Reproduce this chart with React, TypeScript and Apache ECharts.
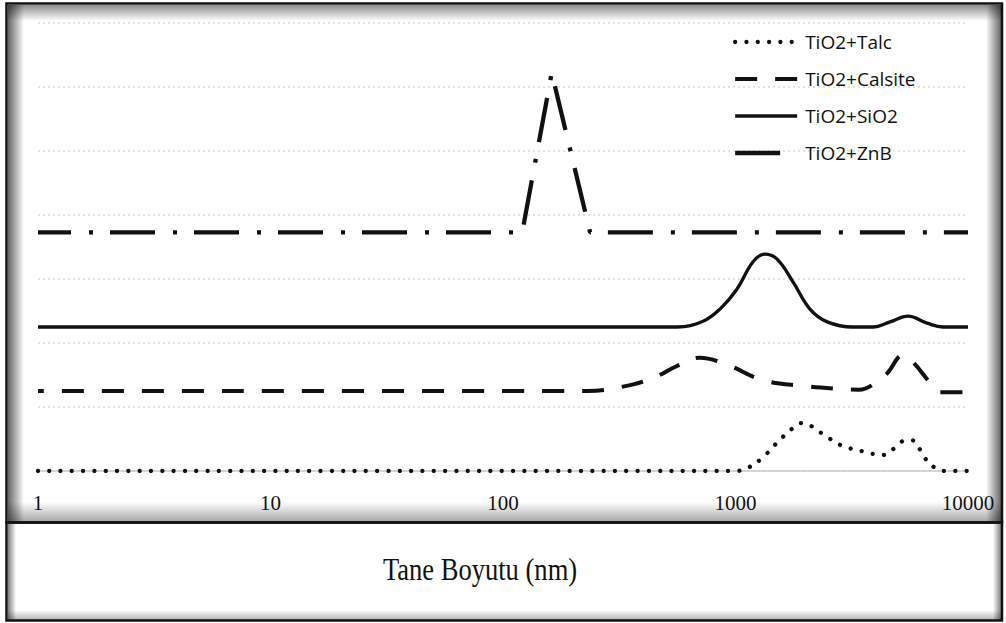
import React, { useEffect, useRef } from "react";
import * as echarts from "echarts";

// Particle size distributions (size in nm, offset intensity)
const talcData: [number, number][] = [
  [1, 0], [1000, 0], [1130, 0.05], [1300, 0.2], [1480, 0.41], [1750, 0.66], [1930, 0.75],
  [2350, 0.59], [2810, 0.41], [3500, 0.31], [4300, 0.25], [4800, 0.35], [5200, 0.46],
  [5740, 0.48], [6200, 0.34], [6530, 0.2], [7200, 0.05], [7800, 0], [10000, 0],
];
const calsiteData: [number, number][] = [
  [1, 1.25], [230, 1.25], [320, 1.31], [440, 1.45], [560, 1.64], [700, 1.77], [920, 1.66],
  [1310, 1.42], [1950, 1.33], [2870, 1.28], [3400, 1.27], [4060, 1.39], [4500, 1.53],
  [5250, 1.81], [5800, 1.7], [6870, 1.38], [7600, 1.23], [10000, 1.23],
];
const sio2Data: [number, number][] = [
  [1, 2.25], [560, 2.25], [725, 2.34], [857, 2.53], [1014, 2.84], [1190, 3.27], [1340, 3.39],
  [1510, 3.31], [1770, 2.95], [2090, 2.53], [2480, 2.33], [3200, 2.25], [3900, 2.25],
  [4620, 2.33], [5520, 2.42], [6670, 2.31], [7800, 2.25], [10000, 2.25],
];
const znbData: [number, number][] = [
  [1, 3.73], [121, 3.73], [162, 6.22], [237, 3.73], [10000, 3.73],
];

const seriesNames = ["TiO2+Talc", "TiO2+Calsite", "TiO2+SiO2", "TiO2+ZnB"];
const xTickLabels = ["1", "10", "100", "1000", "10000"];
const xTitle = "Tane Boyutu (nm)";

export default function App() {
  const ref = useRef<HTMLDivElement>(null);

  useEffect(() => {
    if (!ref.current) return;
    const chart = echarts.init(ref.current, undefined, { renderer: "svg" });
    const ink = "#111";

    const dotted = { color: ink, width: 4.3, type: [0.01, 11.3], cap: "round" };
    const dashed = { color: ink, width: 4, type: [22, 18] };
    const solid = { color: ink, width: 3.3 };
    const dashDot = { color: ink, width: 4.3, type: [45, 18, 4, 17] };

    const shade = (x: number, y: number, w: number, h: number, dir: "l" | "r" | "t" | "b", a: number) => {
      const g =
        dir === "l" ? [0, 0, 1, 0] : dir === "r" ? [1, 0, 0, 0] : dir === "t" ? [0, 0, 0, 1] : [0, 1, 0, 0];
      return {
        type: "rect",
        silent: true,
        z: -10,
        shape: { x, y, width: w, height: h },
        style: {
          fill: new echarts.graphic.LinearGradient(g[0], g[1], g[2], g[3], [
            { offset: 0, color: `rgba(0,0,0,${a})` },
            { offset: 1, color: "rgba(0,0,0,0)" },
          ]),
        },
      };
    };

    chart.setOption({
      animation: false,
      backgroundColor: "#fff",
      grid: { left: 38, right: 38, top: 23, bottom: 152 },
      xAxis: {
        type: "log",
        logBase: 10,
        min: 1,
        max: 10000,
        axisLine: { show: true, lineStyle: { color: "#c9c9c9", width: 1.5 } },
        axisTick: { show: false },
        splitLine: { show: false },
        axisLabel: {
          margin: 21,
          fontFamily: "Liberation Serif",
          fontSize: 21,
          color: "#111",
          formatter: (v: number) => xTickLabels[Math.round(Math.log10(v))] ?? "",
        },
      },
      yAxis: {
        type: "value",
        min: 0,
        max: 7,
        interval: 1,
        axisLine: { show: false },
        axisTick: { show: false },
        axisLabel: { show: false },
        splitLine: { show: true, lineStyle: { color: "#dcdccb", width: 1.5, type: [2, 3] } },
      },
      legend: {
        orient: "vertical",
        left: 733,
        top: 32,
        padding: 0,
        itemWidth: 62,
        itemHeight: 20,
        itemGap: 17,
        itemStyle: { opacity: 0 },
        textStyle: {
          fontFamily: "Open Sans",
          fontSize: 19,
          lineHeight: 20,
          color: "#111",
          padding: [0, 0, 0, 3],
        },
        data: [
          { name: seriesNames[0], lineStyle: { ...dotted } },
          { name: seriesNames[1], lineStyle: { ...dashed, dashOffset: 0 } },
          { name: seriesNames[2], lineStyle: { ...solid } },
          { name: seriesNames[3], lineStyle: { ...dashDot, dashOffset: 0 } },
        ],
      },
      series: [
        {
          name: seriesNames[0],
          type: "line",
          data: talcData,
          symbol: "none",
          smooth: 0.4,
          lineStyle: dotted,
        },
        {
          name: seriesNames[1],
          type: "line",
          data: calsiteData,
          symbol: "none",
          smooth: 0.4,
          lineStyle: { ...dashed, dashOffset: 16 },
        },
        {
          name: seriesNames[2],
          type: "line",
          data: sio2Data,
          symbol: "none",
          smooth: 0.4,
          lineStyle: solid,
        },
        {
          name: seriesNames[3],
          type: "line",
          data: znbData,
          symbol: "none",
          smooth: false,
          lineStyle: { ...dashDot, dashOffset: 12 },
        },
      ],
      graphic: {
        elements: [
          // inner shading of the upper (plot) panel
          shade(8, 5, 16, 517, "l", 0.6),
          shade(8, 5, 993, 16, "t", 0.45),
          shade(986, 5, 15, 517, "r", 0.6),
          shade(8, 502, 993, 20, "b", 0.35),
          // inner shading of the lower (title) panel
          shade(8, 524, 8, 96, "l", 0.5),
          shade(993, 524, 8, 96, "r", 0.5),
          shade(8, 610, 993, 10, "b", 0.3),
          {
            type: "rect",
            silent: true,
            z: 50,
            shape: { x: 6.5, y: 3.5, width: 995.5, height: 519 },
            style: { fill: "none", stroke: "#111", lineWidth: 2.5 },
          },
          {
            type: "rect",
            silent: true,
            z: 50,
            shape: { x: 6.5, y: 522.5, width: 995.5, height: 98 },
            style: { fill: "none", stroke: "#111", lineWidth: 2.5 },
          },
          {
            type: "text",
            silent: true,
            z: 50,
            x: 480,
            y: 569,
            scaleX: 0.83,
            style: {
              text: xTitle,
              font: '32px "Liberation Serif"',
              fill: "#111",
              textAlign: "center",
              textVerticalAlign: "middle",
            },
          },
        ],
      },
    });

    return () => chart.dispose();
  }, []);

  return (
    <div
      ref={ref}
      style={{ position: "fixed", left: 0, top: 0, width: 1006, height: 623, background: "#fff" }}
    />
  );
}
